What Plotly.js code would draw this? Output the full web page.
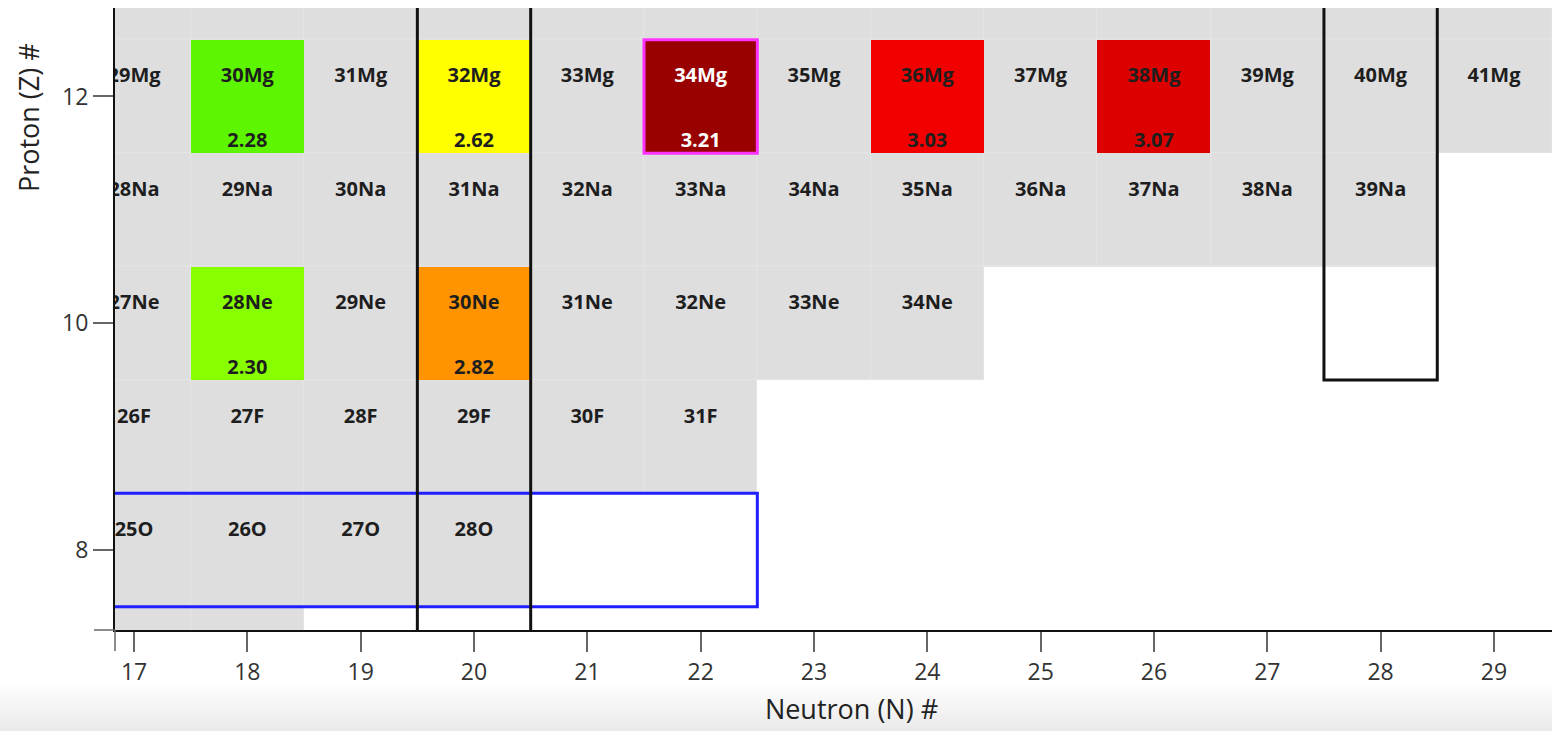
<!DOCTYPE html>
<html>
<head>
<meta charset="utf-8">
<script src="https://cdn.plot.ly/plotly-3.0.1.min.js"></script>
<style>
html, body { margin: 0; padding: 0; width: 1552px; height: 731px; overflow: hidden; }
body { background: linear-gradient(to bottom, #ffffff 0px, #ffffff 682px, #f2f2f2 712px, #e9e9e9 731px); }
#chart { position: absolute; left: 0; top: 0; width: 1588px; height: 731px; }
</style>
</head>
<body>
<div id="chart"></div>
<script>
// ---- data ----
const protonZ       = [7, 8, 9, 10, 11, 12, 13];
const elementSymbol = ['N', 'O', 'F', 'Ne', 'Na', 'Mg', 'Al'];
const neutronMin    = [16, 16, 16, 16, 16, 16, 16];
const neutronMax    = [18, 20, 22, 24, 28, 30, 31];

const measuredN     = [18, 20, 18, 20, 22, 24, 26];
const measuredZ     = [10, 10, 12, 12, 12, 12, 12];
const measuredValue = [2.30, 2.82, 2.28, 2.62, 3.21, 3.03, 3.07];

const neutronTicks  = [17, 18, 19, 20, 21, 22, 23, 24, 25, 26, 27, 28, 29];
const protonTicks   = [8, 10, 12];

// colour scale stops (value -> colour)
const scaleValue = [2.28, 2.30, 2.62, 2.82, 3.03, 3.07, 3.21];
const scaleColor = ['#5df500', '#88ff00', '#ffff00', '#ff9400', '#f20000', '#dc0000', '#990000'];

// magic-number frames
const magicN       = [20, 28];
const magicNFromZ  = [7, 10];
const magicZ       = [8];
const magicZToN    = [22];
const highlightN   = [22];
const highlightZ   = [12];

// ---- build grids ----
const nLo = Math.min(...neutronMin), nHi = Math.max(...neutronMax);
const gridN = [];
for (let n = nLo; n <= nHi; n++) gridN.push(n);

const existZ = protonZ.map((z, i) => gridN.map(n => (n >= neutronMin[i] && n <= neutronMax[i]) ? 1 : null));
const valueZ = protonZ.map(z => gridN.map(n => {
  for (let k = 0; k < measuredN.length; k++) if (measuredN[k] === n && measuredZ[k] === z) return measuredValue[k];
  return null;
}));

const vMin = scaleValue[0], vMax = scaleValue[scaleValue.length - 1];
const colorscale = scaleValue.map((v, i) => [(v - vMin) / (vMax - vMin), scaleColor[i]]);

// labels
const lblX = [], lblY = [], lblT = [], lblC = [];
protonZ.forEach((z, i) => {
  for (let n = neutronMin[i]; n <= neutronMax[i]; n++) {
    lblX.push(n); lblY.push(z + 0.168); lblT.push((n + z) + elementSymbol[i]);
    let dark = false;
    for (let k = 0; k < measuredN.length; k++) if (measuredN[k] === n && measuredZ[k] === z && measuredValue[k] > 3.15) dark = true;
    lblC.push(dark ? '#ffffff' : '#1e1e1e');
  }
});
const valX = measuredN.slice();
const valY = measuredZ.map(z => z - 0.405);
const valT = measuredValue.map(v => v.toFixed(2));
const valC = measuredValue.map(v => v > 3.15 ? '#ffffff' : '#1e1e1e');

const cellFont = { family: 'Open Sans, sans-serif', size: 20, weight: 'bold' };

const traces = [
  { type: 'heatmap', x: gridN, y: protonZ, z: existZ, colorscale: [[0, '#e5e5e5'], [1, '#e5e5e5']],
    showscale: false, hoverinfo: 'skip' },
  { type: 'heatmap', x: gridN, y: protonZ, z: existZ, colorscale: [[0, '#dedede'], [1, '#dedede']],
    showscale: false, xgap: 1, ygap: 1, hoverinfo: 'skip' },
  { type: 'heatmap', x: gridN, y: protonZ, z: valueZ, colorscale: colorscale, zmin: vMin, zmax: vMax,
    showscale: false },
  { type: 'scatter', mode: 'text', x: lblX, y: lblY, text: lblT,
    textfont: Object.assign({}, cellFont, { color: lblC }), hoverinfo: 'text', cliponaxis: true, showlegend: false },
  { type: 'scatter', mode: 'text', x: valX, y: valY, text: valT,
    textfont: Object.assign({}, cellFont, { color: valC }), hoverinfo: 'text', cliponaxis: true, showlegend: false }
];

const zTop = Math.max(...protonZ) + 5;
const shapes = [];
magicZ.forEach((z, i) => shapes.push({ type: 'rect', xref: 'x', yref: 'y', layer: 'above',
  x0: nLo - 1, x1: magicZToN[i] + 0.5, y0: z - 0.5, y1: z + 0.5,
  line: { color: '#1f1fff', width: 3 }, fillcolor: 'rgba(0,0,0,0)' }));
magicN.forEach((n, i) => shapes.push({ type: 'rect', xref: 'x', yref: 'y', layer: 'above',
  x0: n - 0.5, x1: n + 0.5, y0: magicNFromZ[i] - 0.5, y1: zTop,
  line: { color: '#111111', width: 3 }, fillcolor: 'rgba(0,0,0,0)' }));
highlightN.forEach((n, i) => shapes.push({ type: 'rect', xref: 'x', yref: 'y', layer: 'above',
  x0: n - 0.5, x1: n + 0.5, y0: highlightZ[i] - 0.5, y1: highlightZ[i] + 0.5,
  line: { color: '#ff33ff', width: 3 }, fillcolor: 'rgba(0,0,0,0)' }));
// corner stubs of the axis frame
shapes.push({ type: 'line', xref: 'paper', yref: 'paper', xsizemode: 'pixel', xanchor: 0,
  x0: -21, x1: 0, y0: 0, y1: 0, line: { color: '#666666', width: 1.5 } });
shapes.push({ type: 'line', xref: 'paper', yref: 'paper', ysizemode: 'pixel', yanchor: 0,
  x0: 0, x1: 0, y0: -21, y1: 0, line: { color: '#666666', width: 1.5 } });

const tickFont = { family: 'Open Sans, sans-serif', size: 23, color: '#333333' };
const titleFont = { family: 'Open Sans, sans-serif', size: 27, color: '#222222' };
const layout = {
  width: 1588, height: 731,
  margin: { l: 115, r: 0, t: 8, b: 101 },
  paper_bgcolor: 'rgba(0,0,0,0)', plot_bgcolor: '#ffffff',
  showlegend: false,
  xaxis: {
    range: [16.832, 29.83], tickmode: 'array', tickvals: neutronTicks,
    ticks: 'outside', ticklen: 20, tickwidth: 1.5, tickcolor: '#666666',
    showline: true, linecolor: '#111111', linewidth: 2,
    showgrid: false, zeroline: false, tickfont: tickFont,
    title: { text: 'Neutron (N) #', font: titleFont, standoff: 15 }
  },
  yaxis: {
    range: [7.295, 12.78], tickmode: 'array', tickvals: protonTicks,
    ticks: 'outside', ticklen: 20, tickwidth: 1.5, tickcolor: '#666666',
    showline: true, linecolor: '#111111', linewidth: 2,
    showgrid: false, zeroline: false, tickfont: tickFont
  },
  annotations: [{
    text: 'Proton (Z) #', xref: 'paper', yref: 'paper', x: 0, y: 0.823,
    xanchor: 'center', yanchor: 'middle', xshift: -87, textangle: -90, showarrow: false,
    font: titleFont
  }],
  shapes: shapes
};

Plotly.newPlot('chart', traces, layout, { displayModeBar: false });
</script>
</body>
</html>
